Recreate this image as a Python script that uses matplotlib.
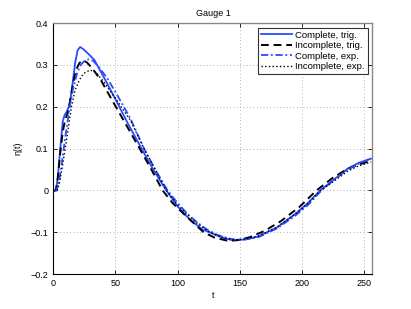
import numpy as np
import matplotlib
matplotlib.use("Agg")
import matplotlib.pyplot as plt

plt.rcParams["font.family"] = ["Liberation Sans", "DejaVu Sans"]

# ── data ──────────────────────────────────────────────────────────────────────
t_ct = [0, 2, 3.5, 5.5, 7.5, 9, 11, 13, 15, 17.5, 19.5, 21.5, 24, 28, 33, 40, 50,
        60, 71, 81, 91, 100, 110, 120, 128, 136, 145, 155, 165, 180, 195, 205,
        215, 226, 237, 246, 256]
eta_ct = [0, 0, 0.03, 0.1, 0.165, 0.18, 0.19, 0.205, 0.245, 0.305, 0.335, 0.343,
          0.338, 0.327, 0.312, 0.274, 0.218, 0.16, 0.1, 0.047, 0.0, -0.038,
          -0.07, -0.093, -0.103, -0.113, -0.1195, -0.117, -0.11, -0.089, -0.056,
          -0.03, 0.0, 0.026, 0.052, 0.066, 0.076]

t_it = [0, 2, 3.5, 5.5, 7.5, 9.5, 11.5, 13.5, 16, 18.5, 21, 24, 27, 31, 38, 48,
        58, 69.5, 78, 88, 96, 105, 113, 121, 130, 140, 148, 158, 170, 183, 198,
        212, 225, 236, 246, 256]
eta_it = [0, 0, 0.03, 0.09, 0.14, 0.17, 0.185, 0.215, 0.26, 0.29, 0.305, 0.311,
          0.306, 0.293, 0.265, 0.212, 0.16, 0.1, 0.055, 0.0, -0.03, -0.056,
          -0.078, -0.1, -0.113, -0.12, -0.119, -0.112, -0.097, -0.074, -0.04,
          0.0, 0.03, 0.05, 0.062, 0.071]

t_ce = [0, 2.5, 4.5, 6.5, 9.5, 13.5, 16, 19, 22, 25, 28.5, 32, 36, 43, 52, 62,
        73, 82, 92, 100, 108, 116, 124, 132, 140, 147, 155, 165, 180, 195, 205,
        216, 226, 237, 246, 256]
eta_ce = [0, 0, 0.02, 0.06, 0.127, 0.207, 0.245, 0.28, 0.3, 0.31, 0.314, 0.31,
          0.297, 0.27, 0.225, 0.172, 0.1, 0.05, 0.0, -0.03, -0.056, -0.077,
          -0.094, -0.106, -0.114, -0.118, -0.117, -0.112, -0.091, -0.06, -0.035,
          0.0, 0.025, 0.05, 0.064, 0.077]

t_ie = [0, 3, 5, 7, 9.5, 12, 14.5, 17.5, 21, 24.5, 29.5, 34, 40, 50, 62, 73, 82,
        91, 100, 108, 116, 124, 132, 140, 146, 155, 165, 180, 195, 205, 215, 226,
        237, 246, 256]
eta_ie = [0, 0, 0.02, 0.055, 0.1, 0.15, 0.2, 0.24, 0.265, 0.28, 0.288, 0.283,
          0.262, 0.22, 0.168, 0.1, 0.05, 0.0, -0.035, -0.058, -0.079, -0.096,
          -0.108, -0.115, -0.118, -0.116, -0.109, -0.088, -0.056, -0.032, 0.0,
          0.022, 0.046, 0.059, 0.068]

labels = ["Complete, trig.", "Incomplete, trig.", "Complete, exp.", "Incomplete, exp."]
xticks = [0, 50, 100, 150, 200, 250]
yticks = [-0.2, -0.1, 0, 0.1, 0.2, 0.3, 0.4]
ytick_labels = ["\u22120.2", "\u22120.1", "0", "0.1", "0.2", "0.3", "0.4"]

blue = "#2a4bff"

fig = plt.figure(figsize=(4.11, 3.09), dpi=100)
ax = fig.add_axes([0.130, 0.113, 0.776, 0.812])

ax.plot(t_ct, eta_ct, "-", color=blue, lw=1.3, label=labels[0])
ax.plot(t_it, eta_it, "--", color="k", lw=1.4, dashes=(4, 2.5), label=labels[1])
ax.plot(t_ce, eta_ce, "-.", color=blue, lw=1.3, dashes=(4, 1.5, 1, 1.5), label=labels[2])
ax.plot(t_ie, eta_ie, ":", color="k", lw=1.0, label=labels[3])

ax.set_xlim(0, 257)
ax.set_ylim(-0.2, 0.4)
ax.set_xticks(xticks)
ax.set_yticks(yticks)
ax.set_yticklabels(ytick_labels)
ax.tick_params(direction="in", length=3, labelsize=6.5, top=True, right=True, width=0.6)
ax.grid(True, ls=(0, (1, 3)), color="#999999", lw=0.6)
for side in ["left", "bottom"]:
    ax.spines[side].set_linewidth(0.8)
for side in ["top", "right"]:
    ax.spines[side].set_color("#888888")
    ax.spines[side].set_linewidth(1.0)

ax.set_title("Gauge 1", fontsize=6.5, pad=5)
ax.set_xlabel("t", fontsize=6.5, labelpad=2)
ax.set_ylabel("\u03b7(t)", fontsize=6.5, labelpad=6)

leg = ax.legend(loc="upper right", fontsize=6.8, frameon=True, fancybox=False,
                edgecolor="k", borderpad=0.3, labelspacing=0.15,
                handlelength=3.3, handletextpad=0.3, borderaxespad=0.5)
leg.get_frame().set_linewidth(0.8)

fig.savefig("out.png", dpi=100)
